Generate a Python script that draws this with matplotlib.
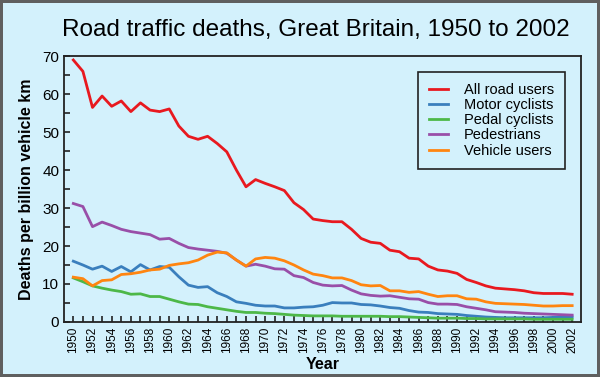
import matplotlib
matplotlib.use("Agg")
import matplotlib.pyplot as plt
from matplotlib.ticker import MultipleLocator

years = list(range(1950, 2003))

all_road_users = [69.0, 66.0, 56.5, 59.5, 56.8, 58.2, 55.4, 57.7, 55.8, 55.4,
                  56.1, 51.6, 48.9, 48.1, 48.9, 47.0, 44.8, 40.0, 35.6, 37.5,
                  36.5, 35.6, 34.6, 31.4, 29.6, 27.1, 26.7, 26.4, 26.4, 24.4,
                  22.0, 21.0, 20.7, 18.9, 18.5, 16.8, 16.6, 14.7, 13.7, 13.4,
                  12.8, 11.2, 10.4, 9.5, 8.9, 8.7, 8.5, 8.2, 7.7, 7.5,
                  7.5, 7.5, 7.3]
motor_cyclists = [16.0, 15.0, 13.9, 14.7, 13.3, 14.6, 13.2, 15.1, 13.7, 14.6,
                  14.4, 11.9, 9.7, 9.1, 9.3, 7.7, 6.7, 5.3, 4.9, 4.4,
                  4.2, 4.2, 3.7, 3.7, 3.9, 4.0, 4.4, 5.1, 5.0, 5.0,
                  4.6, 4.5, 4.2, 3.8, 3.6, 3.0, 2.6, 2.5, 2.2, 2.1,
                  2.0, 1.7, 1.5, 1.3, 1.2, 1.1, 1.1, 1.1, 1.1, 1.1,
                  1.2, 1.3, 1.3]
pedal_cyclists = [11.6, 10.6, 9.5, 8.9, 8.4, 8.0, 7.3, 7.4, 6.7, 6.7,
                  6.0, 5.3, 4.7, 4.6, 4.0, 3.6, 3.2, 2.8, 2.5, 2.5,
                  2.3, 2.2, 2.0, 1.8, 1.7, 1.6, 1.6, 1.6, 1.5, 1.5,
                  1.5, 1.5, 1.5, 1.4, 1.4, 1.3, 1.2, 1.1, 1.0, 1.0,
                  1.0, 0.9, 0.9, 0.8, 0.8, 0.8, 0.8, 0.8, 0.7, 0.7,
                  0.7, 0.7, 0.7]
pedestrians = [31.2, 30.4, 25.1, 26.3, 25.4, 24.4, 23.8, 23.4, 23.0, 21.8,
               22.0, 20.7, 19.6, 19.2, 18.9, 18.6, 18.1, 16.3, 14.7, 15.2,
               14.7, 14.0, 13.9, 12.2, 11.7, 10.4, 9.7, 9.5, 9.6, 8.4,
               7.4, 7.0, 6.8, 6.9, 6.5, 6.1, 6.0, 5.1, 4.7, 4.7,
               4.6, 4.0, 3.6, 3.2, 2.7, 2.6, 2.5, 2.3, 2.2, 2.1,
               2.0, 1.9, 1.8]
vehicle_users = [11.8, 11.4, 9.5, 10.9, 11.1, 12.5, 12.7, 13.1, 13.7, 13.9,
                 14.9, 15.3, 15.6, 16.3, 17.6, 18.4, 18.2, 16.3, 14.7, 16.6,
                 17.0, 16.8, 16.1, 15.0, 13.7, 12.6, 12.2, 11.6, 11.6, 10.9,
                 9.8, 9.5, 9.6, 8.2, 8.2, 7.8, 8.0, 7.3, 6.7, 6.9,
                 6.9, 6.1, 6.0, 5.3, 4.9, 4.8, 4.7, 4.6, 4.4, 4.2,
                 4.2, 4.3, 4.3]

series_names = ["All road users", "Motor cyclists", "Pedal cyclists",
                "Pedestrians", "Vehicle users"]
colors = ["#e8191f", "#3a7fbd", "#4db848", "#994fa8", "#ff8510"]

bg = "#d3f1fc"
plt.rcParams['font.family'] = ['Liberation Sans', 'DejaVu Sans']

fig = plt.figure(figsize=(6, 3.77), dpi=100)
fig.patch.set_facecolor(bg)
fig.patch.set_edgecolor("#5f5f5f")
fig.patch.set_linewidth(4)
ax = fig.add_axes([0.107, 0.146, 0.861, 0.705])
ax.set_facecolor(bg)

for vals, name, c in zip([all_road_users, motor_cyclists, pedal_cyclists,
                          pedestrians, vehicle_users], series_names, colors):
    ax.plot(years, vals, color=c, lw=2.0, label=name, solid_joinstyle='round')

ax.set_xlim(1949.05, 2002.9)
ax.set_ylim(0, 70)
ax.set_xticks(years[::2])
ax.set_xticklabels([str(y) for y in years[::2]], rotation=90, fontsize=8.5)
ax.xaxis.set_minor_locator(MultipleLocator(1))
ax.yaxis.set_major_locator(MultipleLocator(10))
ax.yaxis.set_minor_locator(MultipleLocator(5))
ax.tick_params(axis='both', which='both', direction='in', length=4, width=1.2, color='#222222')
ax.tick_params(axis='y', labelsize=11)
for s in ax.spines.values():
    s.set_linewidth(1.3)
    s.set_color('#222222')

ax.set_xlabel("Year", fontsize=11.5, fontweight='bold', labelpad=3)
ax.set_ylabel("Deaths per billion vehicle km", fontsize=11.5, fontweight='bold', labelpad=6)
fig.suptitle("Road traffic deaths, Great Britain, 1950 to 2002", fontsize=17.5, y=0.95, x=0.527)

leg = ax.legend(loc='upper right', bbox_to_anchor=(565/600, 1 - 72/377),
                bbox_transform=fig.transFigure, fontsize=10.5,
                frameon=True, fancybox=False, handlelength=1.3, labelspacing=0.08,
                borderpad=0.75, handletextpad=1.1, borderaxespad=0)
leg.get_frame().set_facecolor(bg)
leg.get_frame().set_edgecolor('#222222')
leg.get_frame().set_linewidth(1.2)
leg.get_frame().set_alpha(1)

fig.savefig("out.png", dpi=100, facecolor=fig.get_facecolor(), edgecolor=fig.get_edgecolor())
